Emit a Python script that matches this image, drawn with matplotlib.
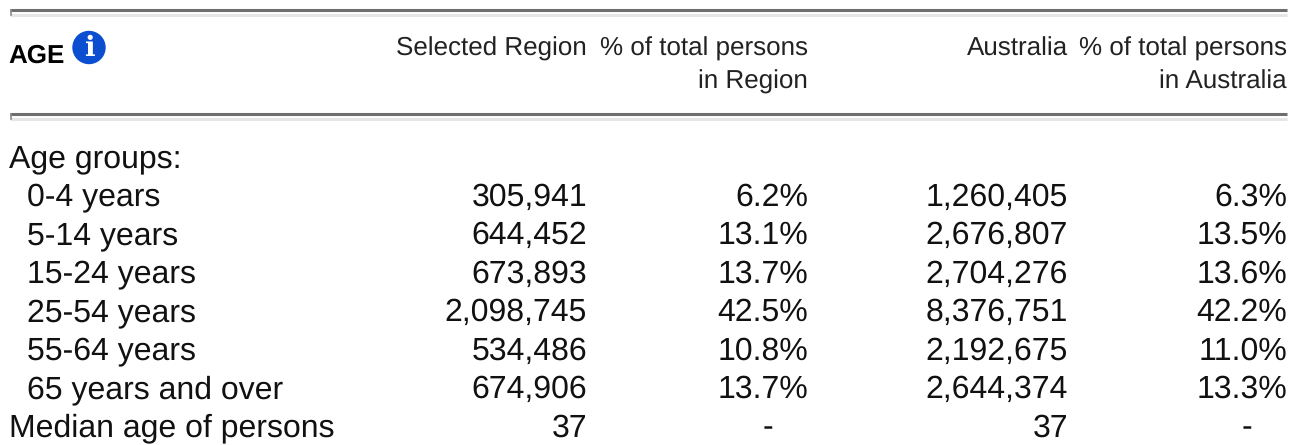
import matplotlib
matplotlib.use("Agg")
import matplotlib.pyplot as plt
from matplotlib.patches import Circle

plt.rcParams['font.family'] = ['Liberation Sans', 'DejaVu Sans']
plt.rcParams['text.hinting'] = 'none'
plt.rcParams['text.hinting_factor'] = 1

labels = ["0-4 years", "5-14 years", "15-24 years", "25-54 years", "55-64 years", "65 years and over"]
region = ["305,941", "644,452", "673,893", "2,098,745", "534,486", "674,906"]
region_pct = ["6.2%", "13.1%", "13.7%", "42.5%", "10.8%", "13.7%"]
aus = ["1,260,405", "2,676,807", "2,704,276", "8,376,751", "2,192,675", "2,644,374"]
aus_pct = ["6.3%", "13.5%", "13.6%", "42.2%", "11.0%", "13.3%"]
median_row = ["Median age of persons", "37", "-", "37", "-"]

W, H = 1298, 445
fig = plt.figure(figsize=(W / 100, H / 100), dpi=100)
ax = fig.add_axes([0, 0, 1, 1])
ax.set_xlim(0, W)
ax.set_ylim(H, 0)
ax.axis('off')

fs = 22.8
fs_head = 18.4
ink = '#111111'
x_region, x_regpct, x_aus, x_auspct = 587, 808, 1068, 1287


def rule(y):
    # dark line with a pale shadow under it
    ax.plot([10, 1287], [y, y], color='#6e6e6e', lw=2.2, solid_capstyle='butt')
    ax.plot([10, 1287], [y + 5, y + 5], color='#e6e6e6', lw=2.2, solid_capstyle='butt')
    ax.plot([11, 11], [y, y + 5], color='#8a8a8a', lw=1.2)


rule(9.5)
rule(113.5)

# header
ax.text(8.5, 63, "AGE", fontsize=18.8, fontweight='bold', color='black', va='baseline', ha='left')
ax.add_patch(Circle((89, 47.5), 16, color='#0b4fd0', zorder=3))
ax.text(89, 48, "i", fontsize=20, fontweight='bold', family='DejaVu Serif', color='white',
        ha='center', va='center', zorder=4)

ax.text(x_region, 56, "Selected Region", fontsize=fs_head, color='#222222', ha='right', va='baseline')
ax.text(x_regpct, 56, "% of total persons", fontsize=fs_head, color='#222222', ha='right', va='baseline')
ax.text(x_regpct, 89, "in Region", fontsize=fs_head, color='#222222', ha='right', va='baseline')
ax.text(x_aus, 56, "Australia", fontsize=fs_head, color='#222222', ha='right', va='baseline')
ax.text(x_auspct, 56, "% of total persons", fontsize=fs_head, color='#222222', ha='right', va='baseline')
ax.text(x_auspct, 89, "in Australia", fontsize=fs_head, color='#222222', ha='right', va='baseline')

# body
ax.text(9, 167, "Age groups:", fontsize=fs, color=ink, va='baseline')
y0, step = 205.5, 38.5
for i in range(len(labels)):
    y = y0 + i * step
    ax.text(27, y, labels[i], fontsize=fs, color=ink, va='baseline')
    ax.text(x_region, y, region[i], fontsize=fs, color=ink, ha='right', va='baseline')
    ax.text(x_regpct, y, region_pct[i], fontsize=fs, color=ink, ha='right', va='baseline')
    ax.text(x_aus, y, aus[i], fontsize=fs, color=ink, ha='right', va='baseline')
    ax.text(x_auspct, y, aus_pct[i], fontsize=fs, color=ink, ha='right', va='baseline')

y = y0 + 6 * step
ax.text(9, y, median_row[0], fontsize=fs, color=ink, va='baseline')
ax.text(x_region, y, median_row[1], fontsize=fs, color=ink, ha='right', va='baseline')
ax.text(768, y, median_row[2], fontsize=fs, color=ink, ha='center', va='baseline')
ax.text(x_aus, y, median_row[3], fontsize=fs, color=ink, ha='right', va='baseline')
ax.text(1247, y, median_row[4], fontsize=fs, color=ink, ha='center', va='baseline')

fig.savefig("out.png", dpi=100)
